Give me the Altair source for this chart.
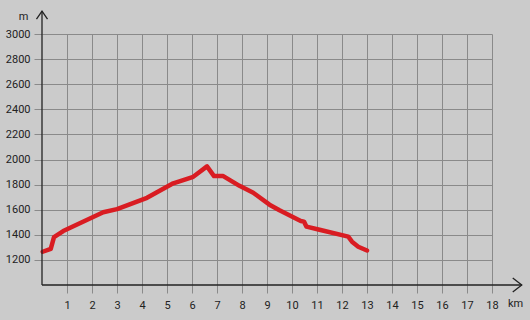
import altair as alt
import pandas as pd

# Elevation profile (km, m)
km = [0.03, 0.35, 0.48, 0.85, 2.45, 3.0, 4.2, 5.25, 6.05, 6.6, 6.88, 7.25,
      7.9, 8.45, 9.1, 9.5, 10.35, 10.48, 10.58, 11.1, 12.25, 12.4, 12.65, 13.0]
elev = [1265, 1288, 1382, 1430, 1580, 1605, 1695, 1810, 1862, 1945, 1868, 1868,
        1790, 1735, 1640, 1595, 1510, 1505, 1465, 1440, 1385, 1345, 1305, 1275]

x_ticks = list(range(1, 19))
y_ticks = list(range(1200, 3001, 200))

# axis lines with arrows (data units)
x_axis_end = 19.19
y_axis_end = 3183

FONT = "Roboto"
GRID = "#8a8a8a"
INK = "#222222"
BG = "#cbcbcb"

profile = pd.DataFrame({"km": km, "elev": elev})

xscale = alt.Scale(domain=[0, 18], nice=False, zero=False)
yscale = alt.Scale(domain=[1000, 3000], nice=False, zero=False)

xaxis = alt.Axis(values=x_ticks, tickCount=len(x_ticks) + 2,
                 grid=True, gridColor=GRID, gridWidth=1, gridOpacity=1,
                 domain=False, ticks=True, tickSize=8, tickColor=GRID, tickWidth=1,
                 labelFont=FONT, labelFontSize=11, labelColor=INK, labelPadding=6,
                 labelFlush=False, labelOverlap=False, format="d",
                 title="km", titleX=473, titleY=18.5,
                 titleBaseline="middle", titleAlign="center", titleFont=FONT,
                 titleFontSize=11, titleFontWeight="normal", titleColor=INK)
yaxis = alt.Axis(values=y_ticks, tickCount=len(y_ticks) + 2,
                 grid=True, gridColor=GRID, gridWidth=1, gridOpacity=1,
                 domain=False, ticks=True, tickSize=8, tickColor=GRID, tickWidth=1,
                 labelFont=FONT, labelFontSize=11, labelColor=INK, labelPadding=4,
                 labelFlush=False, labelOverlap=False, format="d",
                 title="m", titleAngle=0, titleX=-19, titleY=-18,
                 titleBaseline="middle", titleAlign="center", titleFont=FONT,
                 titleFontSize=11, titleFontWeight="normal", titleColor=INK)

line = alt.Chart(profile).mark_line(color="#d91c22", strokeWidth=4.5,
                                    strokeJoin="round", strokeCap="round").encode(
    x=alt.X("km:Q", scale=xscale, axis=xaxis),
    y=alt.Y("elev:Q", scale=yscale, axis=yaxis),
)

xline_df = pd.DataFrame({"km": [0], "km2": [x_axis_end], "elev": [1000]})
yline_df = pd.DataFrame({"km": [0], "elev": [1000], "elev2": [y_axis_end]})

xline = alt.Chart(xline_df).mark_rule(color=INK, strokeWidth=1.3, clip=False).encode(
    x="km:Q", x2="km2:Q", y="elev:Q")
yline = alt.Chart(yline_df).mark_rule(color=INK, strokeWidth=1.3, clip=False).encode(
    x="km:Q", y="elev:Q", y2="elev2:Q")

xarrow = alt.Chart(pd.DataFrame({"km": [x_axis_end], "elev": [1000]})).mark_point(
    shape="M-1,-0.78L0,0L-1,0.78", size=324, filled=False, stroke=INK,
    strokeWidth=1.3, opacity=1, clip=False).encode(x="km:Q", y="elev:Q")
yarrow = alt.Chart(pd.DataFrame({"km": [0], "elev": [y_axis_end]})).mark_point(
    shape="M-0.69,1L0,0L0.69,1", size=256, filled=False, stroke=INK,
    strokeWidth=1.3, opacity=1, clip=False).encode(x="km:Q", y="elev:Q")

chart = alt.layer(line, xline, yline, xarrow, yarrow).properties(
    width=450, height=251, background=BG,
    padding={"left": 42, "top": 34, "right": 38, "bottom": 35},
    autosize=alt.AutoSizeParams(type="none"),
).configure_view(stroke=None, fill=BG)

chart.save("out.html", embed_options={"renderer": "svg", "actions": False})
